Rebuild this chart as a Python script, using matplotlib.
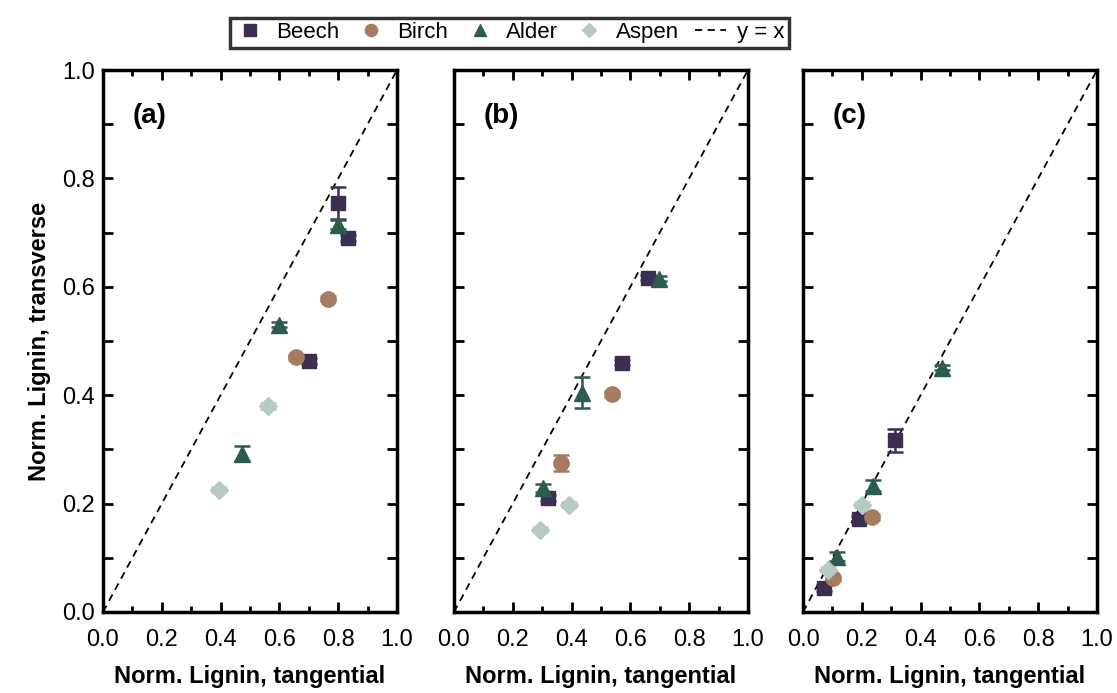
import numpy as np
import matplotlib.pyplot as plt
from matplotlib.ticker import MultipleLocator

plt.rcParams['font.family'] = ['Liberation Sans', 'DejaVu Sans']

# --- data (x = tangential, y = transverse, yerr) ---
species = ['Beech', 'Birch', 'Alder', 'Aspen']

a_beech_x = [0.80, 0.835, 0.70]
a_beech_y = [0.755, 0.69, 0.463]
a_beech_e = [0.03, 0.005, 0.005]
a_birch_x = [0.766, 0.655]
a_birch_y = [0.578, 0.47]
a_birch_e = [0.005, 0.005]
a_alder_x = [0.80, 0.60, 0.474]
a_alder_y = [0.715, 0.53, 0.292]
a_alder_e = [0.008, 0.005, 0.014]
a_aspen_x = [0.562, 0.395]
a_aspen_y = [0.38, 0.226]
a_aspen_e = [0.005, 0.005]

b_beech_x = [0.661, 0.57, 0.321]
b_beech_y = [0.617, 0.46, 0.21]
b_beech_e = [0.005, 0.005, 0.005]
b_birch_x = [0.536, 0.364]
b_birch_y = [0.402, 0.275]
b_birch_e = [0.005, 0.015]
b_alder_x = [0.698, 0.436, 0.304]
b_alder_y = [0.615, 0.405, 0.229]
b_alder_e = [0.005, 0.029, 0.008]
b_aspen_x = [0.391, 0.293]
b_aspen_y = [0.198, 0.152]
b_aspen_e = [0.005, 0.005]

c_beech_x = [0.313, 0.192, 0.071]
c_beech_y = [0.317, 0.172, 0.044]
c_beech_e = [0.021, 0.005, 0.005]
c_birch_x = [0.234, 0.103]
c_birch_y = [0.175, 0.062]
c_birch_e = [0.005, 0.005]
c_alder_x = [0.474, 0.239, 0.117]
c_alder_y = [0.451, 0.233, 0.102]
c_alder_e = [0.005, 0.01, 0.008]
c_aspen_x = [0.20, 0.086]
c_aspen_y = [0.198, 0.078]
c_aspen_e = [0.005, 0.005]

panels = [
    ('(a)', [(a_beech_x, a_beech_y, a_beech_e), (a_birch_x, a_birch_y, a_birch_e),
             (a_alder_x, a_alder_y, a_alder_e), (a_aspen_x, a_aspen_y, a_aspen_e)]),
    ('(b)', [(b_beech_x, b_beech_y, b_beech_e), (b_birch_x, b_birch_y, b_birch_e),
             (b_alder_x, b_alder_y, b_alder_e), (b_aspen_x, b_aspen_y, b_aspen_e)]),
    ('(c)', [(c_beech_x, c_beech_y, c_beech_e), (c_birch_x, c_birch_y, c_birch_e),
             (c_alder_x, c_alder_y, c_alder_e), (c_aspen_x, c_aspen_y, c_aspen_e)]),
]

colors = ['#3b2e50', '#a67b5e', '#2c5c51', '#b6cac4']
markers = ['s', 'o', '^', 'D']
msizes = [10, 11, 11, 9]

fig = plt.figure(figsize=(11.17, 6.93), dpi=100)
lefts = [0.0922, 0.4064, 0.7189]
width = 0.2632
bottom = 0.1169
height = 0.782

handles = []
for i, (lab, series) in enumerate(panels):
    ax = fig.add_axes([lefts[i], bottom, width, height])
    ln, = ax.plot([0, 1], [0, 1], ls=(0, (4, 3)), color='black', lw=1.3, zorder=1)
    for j, (xs, ys, es) in enumerate(series):
        h = ax.errorbar(xs, ys, yerr=es, fmt=markers[j], color=colors[j],
                        ms=msizes[j], mec=colors[j], ecolor=colors[j],
                        elinewidth=1.8, capsize=6, capthick=1.8, zorder=3)
        if i == 0:
            handles.append(h[0])
    ax.set_xlim(0, 1)
    ax.set_ylim(0, 1)
    ax.xaxis.set_major_locator(MultipleLocator(0.2))
    ax.xaxis.set_minor_locator(MultipleLocator(0.1))
    ax.yaxis.set_major_locator(MultipleLocator(0.2))
    ax.yaxis.set_minor_locator(MultipleLocator(0.1))
    ax.tick_params(which='both', direction='in', top=True, right=True, width=2)
    ax.tick_params(axis='x', which='major', length=7, labelsize=17, pad=12)
    ax.tick_params(axis='x', which='minor', length=4)
    ax.tick_params(axis='y', which='both', length=7, labelsize=17, pad=6)
    ax.xaxis.set_major_formatter(plt.FormatStrFormatter('%.1f'))
    ax.yaxis.set_major_formatter(plt.FormatStrFormatter('%.1f'))
    for s in ax.spines.values():
        s.set_linewidth(2.5)
    ax.set_xlabel('Norm. Lignin, tangential', fontsize=17, fontweight='bold', labelpad=10)
    if i == 0:
        ax.set_ylabel('Norm. Lignin, transverse', fontsize=17, fontweight='bold', labelpad=8)
    else:
        ax.tick_params(axis='y', labelleft=False)
    ax.text(0.1, 0.915, lab, transform=ax.transAxes, fontsize=20, fontweight='bold',
            va='center', ha='left')
    if i == 0:
        line_handle = ln

leg = fig.legend(handles + [line_handle], species + ['y = x'], loc='center',
                 bbox_to_anchor=(0.456, 0.953), ncol=5, fontsize=16, frameon=True,
                 fancybox=False, edgecolor='black', handlelength=1.4, handletextpad=0.5,
                 columnspacing=0.7, borderpad=0.2, markerscale=0.8, borderaxespad=0)
leg.get_frame().set_linewidth(2.5)
leg.legend_handles[4].set_linewidth(1.3)

fig.savefig('out.png', dpi=100)
